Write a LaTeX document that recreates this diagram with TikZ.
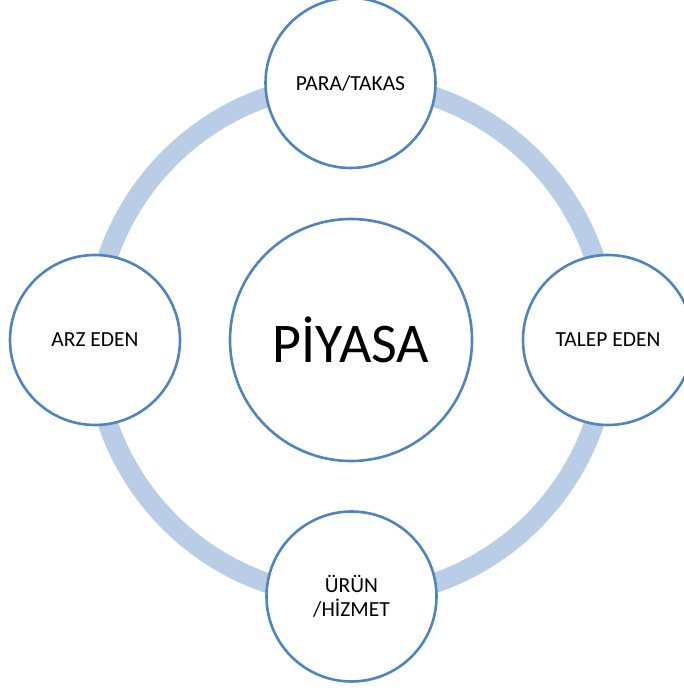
\documentclass[tikz,border=0pt]{standalone}
\usepackage{fontspec}
\setmainfont{Carlito}
\definecolor{ringblue}{RGB}{185,205,231}
\definecolor{edgeblue}{RGB}{79,132,193}
\begin{document}
\begin{tikzpicture}[x=1pt,y=1pt,
  bubble/.style={circle,draw=edgeblue,line width=2.6pt,fill=white,inner sep=0pt,align=center,font=\fontsize{21.5}{24}\selectfont},
  hub/.style={bubble,minimum size=242pt,font=\fontsize{56}{62}\selectfont},
  sat/.style={bubble,minimum size=170pt}]
\useasboundingbox (0,0) rectangle (684,691);
\clip (0,0) rectangle (684,691);
\coordinate (c) at (351,351);
\draw[ringblue,line width=20pt] (c) circle[radius=257];
\node[hub] (piyasa) at (c) {PİYASA};
\node[sat] (para) at (350.5,608) {PARA/TAKAS};
\node[sat] (talep) at (608,351) {TALEP EDEN};
\node[sat] (urun) at (351.5,94.5) {ÜRÜN\\/HİZMET};
\node[sat] (arz) at (95,351) {ARZ EDEN};
\end{tikzpicture}
\end{document}
